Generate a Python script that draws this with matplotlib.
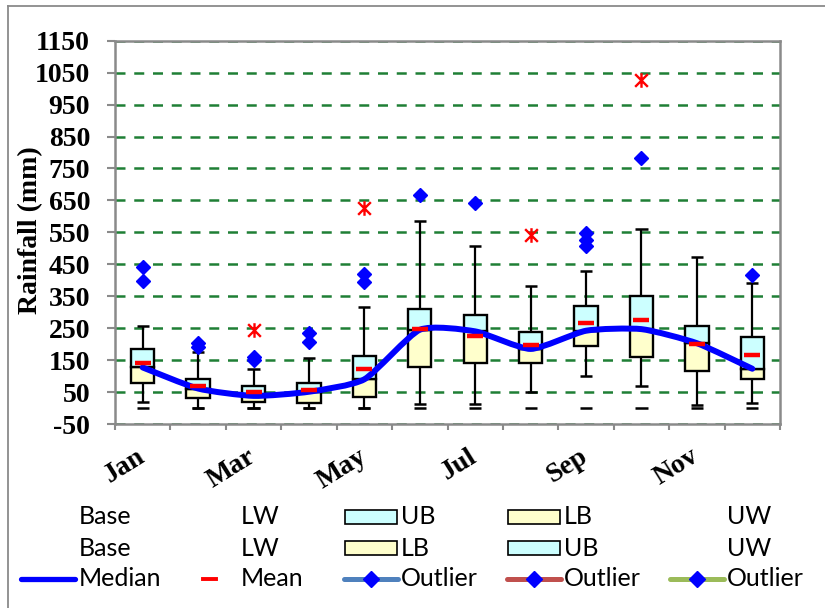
import matplotlib
matplotlib.use("Agg")
import matplotlib.pyplot as plt
from matplotlib.path import Path
from matplotlib.patches import PathPatch, Rectangle
from matplotlib.lines import Line2D
import numpy as np

# ---- monthly rainfall statistics (mm) ----
months = ["Jan", "Feb", "Mar", "Apr", "May", "Jun",
          "Jul", "Aug", "Sep", "Oct", "Nov", "Dec"]
q1 = [77, 32, 18, 16, 36, 128, 141, 141, 193, 160, 115, 91]
median = [127, 61, 38, 51, 90, 245, 240, 185, 242, 247, 203, 123]
q3 = [185, 90, 70, 77, 163, 311, 292, 239, 319, 352, 258, 221]
mean = [140, 69, 50, 56, 122, 247, 224, 198, 266, 277, 200, 165]
whisk_low = [18, 0, 1, 0, 0, 14, 14, 49, 99, 70, 10, 16]
whisk_high = [257, 176, 122, 157, 316, 587, 508, 382, 428, 562, 474, 391]
base_mark = [0] * 12

# mild outliers (diamonds) and extreme outliers (asterisks), by month index
outlier_month = [0, 0, 1, 1, 2, 2, 3, 3, 4, 4, 5, 6, 8, 8, 8, 9, 11]
outlier_value = [440, 399, 205, 190, 159, 150, 234, 208, 420, 393,
                 667, 641, 547, 527, 507, 784, 415]
extreme_month = [2, 4, 7, 9]
extreme_value = [244, 627, 542, 1028]

yticks = list(range(-50, 1151, 100))

# ---- styling ----
GRID_GREEN = "#1f7f35"
AXIS_GRAY = "#8a8a8a"
UPPER_FILL = "#ccffff"
LOWER_FILL = "#ffffcc"
SERIF = ["Liberation Serif", "DejaVu Serif"]

fig = plt.figure(figsize=(8.25, 6.08), dpi=100)
ax = fig.add_axes([115 / 825, (608 - 424) / 608, (780 - 115) / 825, (424 - 40.7) / 608])

x = np.arange(1, len(months) + 1)
box_w = 0.42
cap_w = 0.22

# whiskers and caps
ax.vlines(x, q3, whisk_high, color="black", lw=1.6, zorder=2)
ax.vlines(x, whisk_low, q1, color="black", lw=1.6, zorder=2)
ax.hlines(whisk_high, x - cap_w / 2, x + cap_w / 2, color="black", lw=1.8, zorder=2)
ax.hlines(whisk_low, x - cap_w / 2, x + cap_w / 2, color="black", lw=1.8, zorder=2)
ax.hlines(base_mark, x - cap_w / 2, x + cap_w / 2, color="black", lw=1.8, zorder=2)

# two-tone boxes: lower half (Q1-median) and upper half (median-Q3)
ax.bar(x, np.subtract(median, q1), bottom=q1, width=box_w,
       color=LOWER_FILL, edgecolor="black", linewidth=1.7, zorder=3)
ax.bar(x, np.subtract(q3, median), bottom=median, width=box_w,
       color=UPPER_FILL, edgecolor="black", linewidth=1.7, zorder=3)


def smooth_path(xs, ys, tension=10.0):
    """Gently smoothed cubic Bezier path through the points."""
    pts = np.column_stack([xs, ys]).astype(float)
    n = len(pts)
    verts = [pts[0]]
    codes = [Path.MOVETO]
    for i in range(n - 1):
        p0 = pts[max(i - 1, 0)]
        p1 = pts[i]
        p2 = pts[i + 1]
        p3 = pts[min(i + 2, n - 1)]
        c1 = p1 + (p2 - p0) / tension
        c2 = p2 - (p3 - p1) / tension
        verts += [c1, c2, p2]
        codes += [Path.CURVE4] * 3
    return Path(verts, codes)


ax.add_patch(PathPatch(smooth_path(x, median), facecolor="none",
                       edgecolor="#0000ff", lw=4.3, capstyle="round",
                       joinstyle="round", zorder=4))

# means
ax.plot(x, mean, linestyle="none", marker="_", ms=11, mew=3.2,
        color="#ff0000", zorder=5)

# outliers
ax.plot(x[outlier_month], outlier_value, linestyle="none", marker="D",
        ms=7.5, color="#0000ff", mec="#0000ff", zorder=6)

asterisk = Path([(-1, -1), (1, 1), (-1, 1), (1, -1), (0, -1.15), (0, 1.15)],
                [Path.MOVETO, Path.LINETO, Path.MOVETO, Path.LINETO,
                 Path.MOVETO, Path.LINETO])
ax.plot(x[extreme_month], extreme_value, linestyle="none", marker=asterisk,
        ms=10.5, mew=1.7, mec="#ff0000", mfc="none", zorder=6)

# axes
ax.set_xlim(0.5, len(months) + 0.5)
ax.set_ylim(-50, 1150)
ax.set_yticks(yticks)
ax.set_yticklabels([str(v) for v in yticks], fontfamily=SERIF,
                   fontweight="bold", fontsize=20)
ax.tick_params(axis="y", which="major", length=6, width=1.5,
               color=AXIS_GRAY, pad=12)

ax.set_xticks(np.arange(0.5, len(months) + 1.0, 1.0))
ax.set_xticklabels([])
ax.tick_params(axis="x", which="major", length=4.5, width=1.5, color=AXIS_GRAY)
ax.set_xticks(x[::2], minor=True)
ax.set_xticklabels(months[::2], minor=True, fontfamily=SERIF,
                   fontweight="bold", fontsize=20, rotation=32,
                   ha="right", va="center", rotation_mode="anchor")
ax.tick_params(axis="x", which="minor", length=0, pad=22)

ax.yaxis.grid(True, color=GRID_GREEN, linestyle=(0, (4, 3.5)), lw=1.8)
ax.set_axisbelow(True)
for side in ["left", "bottom", "top", "right"]:
    ax.spines[side].set_color(AXIS_GRAY)
    ax.spines[side].set_linewidth(1.8)
    ax.spines[side].set_zorder(7)

ax.set_ylabel("Rainfall (mm)", fontfamily=SERIF, fontweight="bold",
              fontsize=20, va="center")
ax.yaxis.set_label_coords((31 - 115) / 665, 0.505)

# ---- chart frame and legend drawn in pixel space ----
lg = fig.add_axes([0, 0, 1, 1])
lg.set_xlim(0, 825)
lg.set_ylim(608, 0)
lg.axis("off")

lg.add_line(Line2D([7.5, 825], [6, 6], color=AXIS_GRAY, lw=1.3))
lg.add_line(Line2D([7.5, 7.5], [6, 608], color=AXIS_GRAY, lw=1.3))

LEG_FONT = dict(fontfamily=["Lato", "DejaVu Sans"], fontsize=18, va="center", ha="left")
col_text_x = [79, 241, 401, 564, 727]
row_y = [517, 548, 579]

row1 = ["Base", "LW", "UB", "LB", "UW"]
row2 = ["Base", "LW", "LB", "UB", "UW"]
row3 = ["Median", "Mean", "Outlier", "Outlier", "Outlier"]
for r, labels in enumerate([row1, row2, row3]):
    for c, lab in enumerate(labels):
        lg.text(col_text_x[c], row_y[r], lab, color="black", **LEG_FONT)

# box swatches
swatch = {"UB": UPPER_FILL, "LB": LOWER_FILL}
for r, labels in enumerate([row1, row2]):
    for c in (2, 3):
        x0 = col_text_x[c] - 56
        lg.add_patch(Rectangle((x0, row_y[r] - 7), 52, 14,
                               facecolor=swatch[labels[c]], edgecolor="black", lw=1.2))

# line handles
lg.add_line(Line2D([21, 75], [row_y[2]] * 2, color="#0000ff", lw=3.8,
                   solid_capstyle="round"))
lg.add_line(Line2D([203, 216], [row_y[2]] * 2, color="#ff0000", lw=2.8))
for c, col in zip((2, 3, 4), ("#4f81bd", "#c0504d", "#9bbb59")):
    x1 = col_text_x[c] - 57
    lg.add_line(Line2D([x1, x1 + 54], [row_y[2]] * 2, color=col, lw=3.6,
                       solid_capstyle="round"))
    lg.add_line(Line2D([x1 + 27], [row_y[2]], marker="D", ms=8,
                       color="#0000ff", mec="#0000ff"))

fig.savefig("out.png", dpi=100)
